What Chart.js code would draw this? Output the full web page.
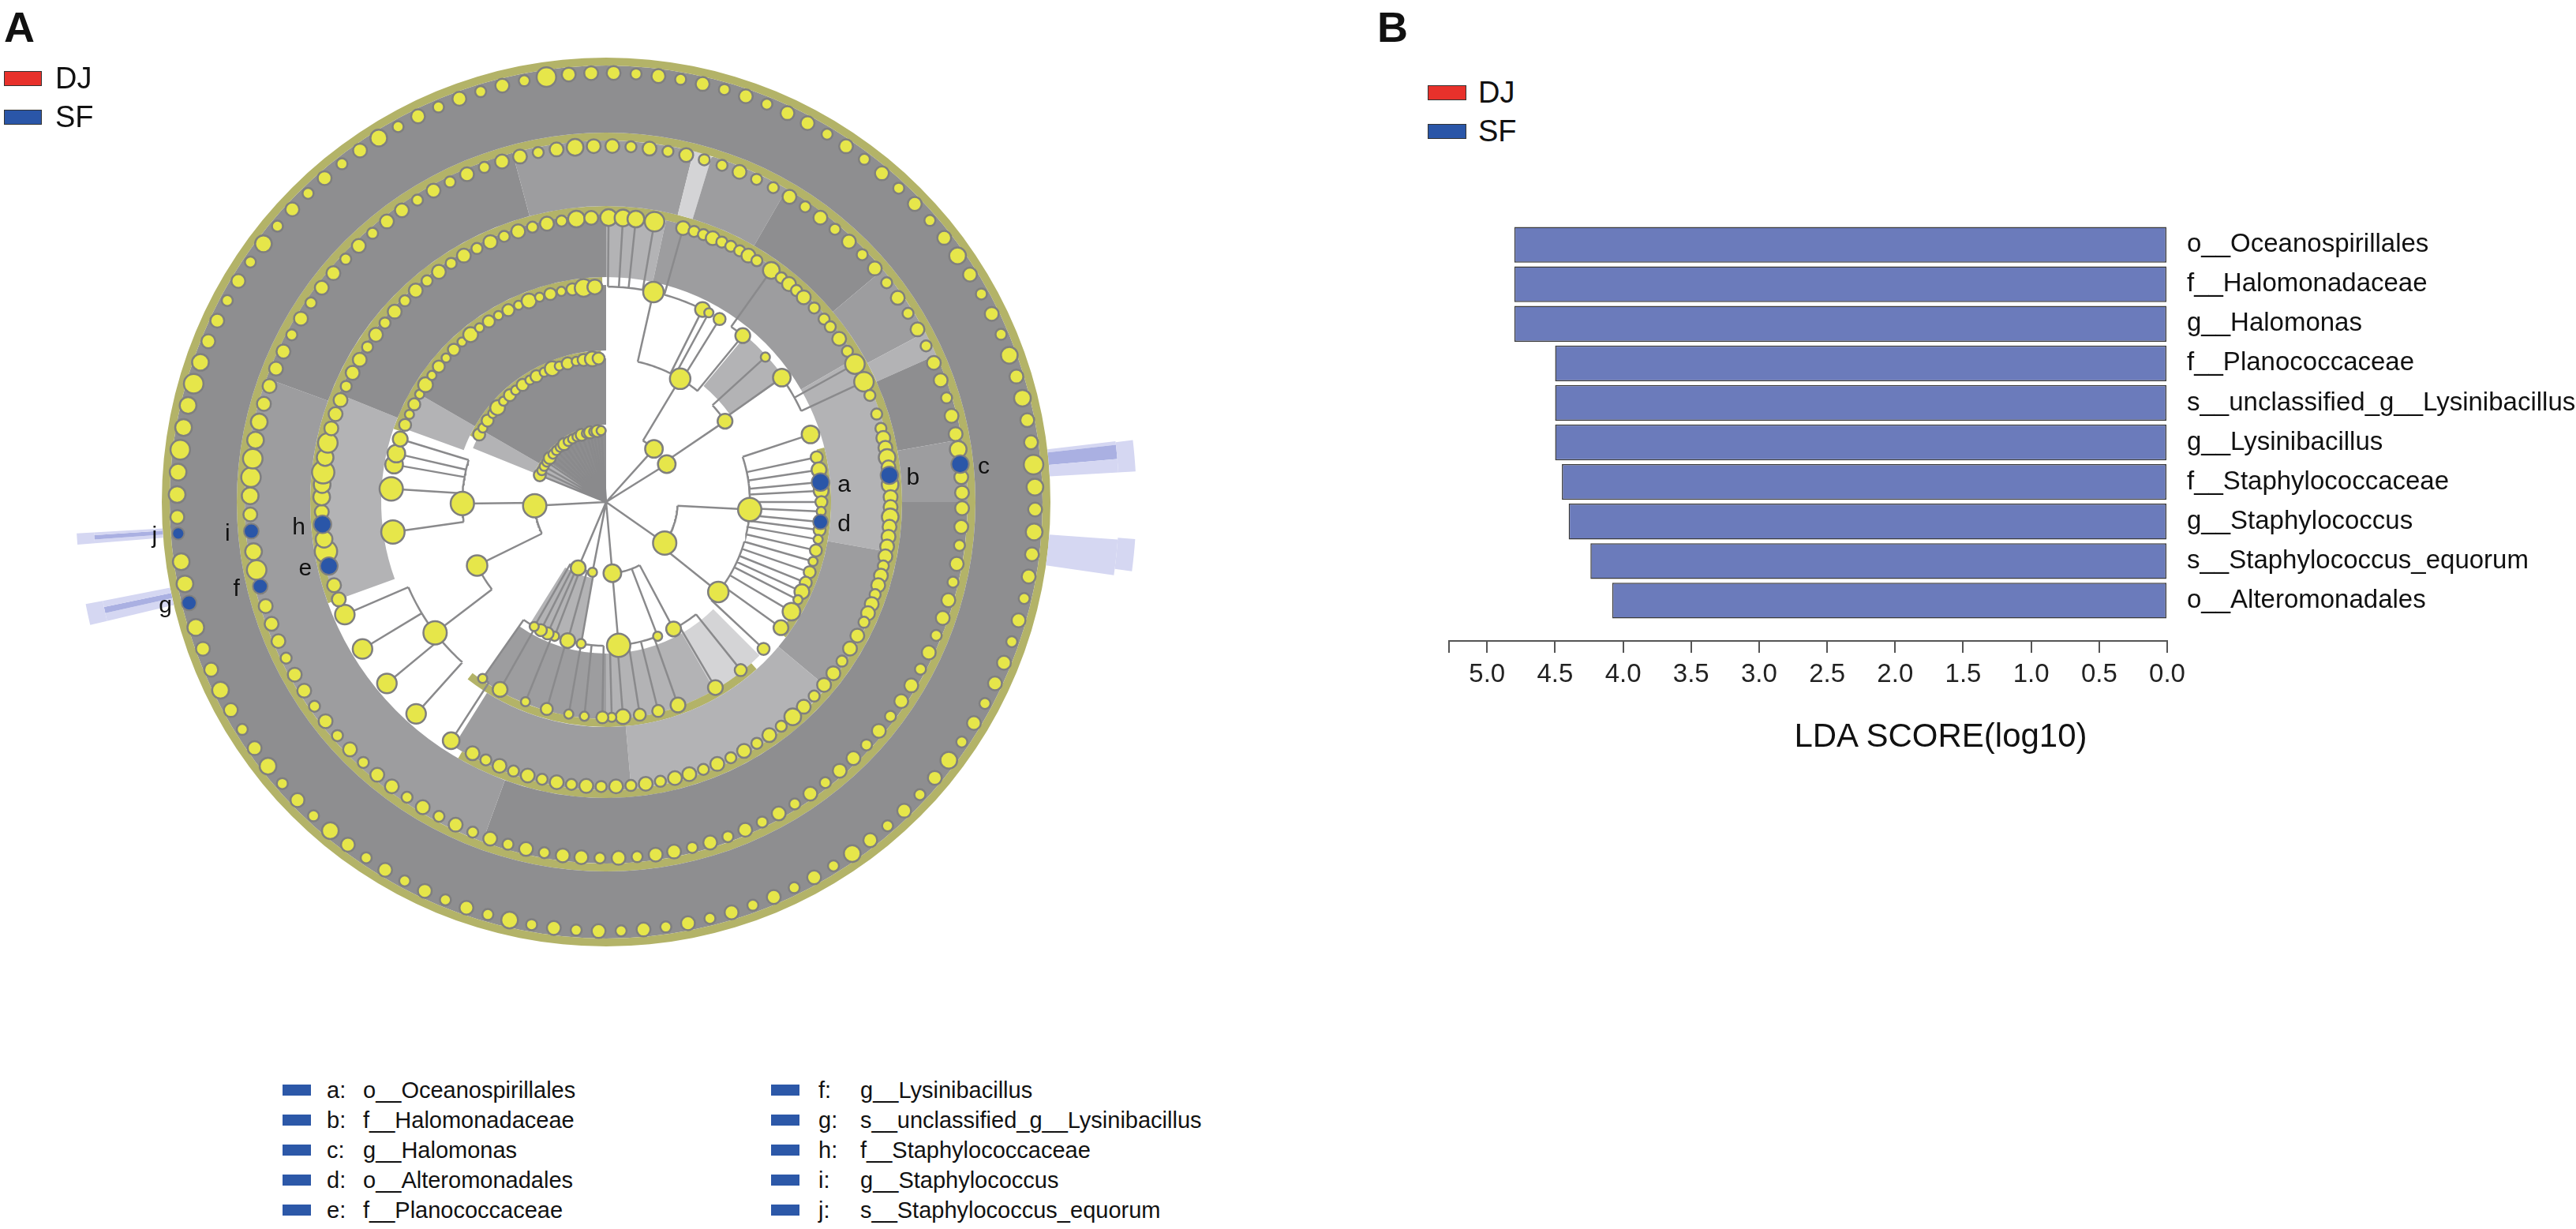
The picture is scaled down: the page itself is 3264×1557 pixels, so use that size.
<!DOCTYPE html>
<html>
<head>
<meta charset="utf-8">
<script src="https://cdn.jsdelivr.net/npm/chart.js@4.4.1/dist/chart.umd.min.js"></script>
<style>
  body { margin: 0; width: 3264px; height: 1557px; background: #fff; position: relative; overflow: hidden;
         font-family: "Liberation Sans", Arial, sans-serif; color: #111; }
  canvas { position: absolute; }
  .txt { position: absolute; line-height: 1; white-space: nowrap; transform: translateY(-50%); }
  .box { position: absolute; border: 1px solid #333; box-sizing: border-box; }
  .key { position: absolute; width: 36px; height: 14px; background: #2c58a8; transform: translateY(-50%); }
</style>
</head>
<body>
<canvas id="ringChart" width="1344" height="1344" style="left:96px;top:-36px"></canvas>
<canvas id="treeChart" width="1344" height="1344" style="left:96px;top:-36px"></canvas>
<canvas id="ldaChart" width="1464" height="800" style="left:1800px;top:200px"></canvas>
<div id="overlay"></div>
<script>
// ---- panel B data ----
const taxa = ["o__Oceanospirillales", "f__Halomonadaceae", "g__Halomonas", "f__Planococcaceae",
  "s__unclassified_g__Lysinibacillus", "g__Lysinibacillus", "f__Staphylococcaceae",
  "g__Staphylococcus", "s__Staphylococcus_equorum", "o__Alteromonadales"];
const ldaScores = [4.80, 4.80, 4.80, 4.50, 4.50, 4.50, 4.45, 4.40, 4.24, 4.08];
const ldaAxisMax = 5.28;
const ldaTickStep = 0.5;
const groups = ["DJ", "SF"];
const groupColors = ["#e8312b", "#2a56a8"];

// ---- panel A data: biomarkers ----
const biomarkerLetters = ["a", "b", "c", "d", "e", "f", "g", "h", "i", "j"];
const biomarkerNames = ["o__Oceanospirillales", "f__Halomonadaceae", "g__Halomonas", "o__Alteromonadales",
  "f__Planococcaceae", "g__Lysinibacillus", "s__unclassified_g__Lysinibacillus", "f__Staphylococcaceae",
  "g__Staphylococcus", "s__Staphylococcus_equorum"];
const biomarkerLevels = [3, 4, 5, 3, 4, 5, 6, 4, 5, 6];
const biomarkerAngles = [84.7, 84.6, 83.9, 95.3, 257, 256.3, 256.4, 265.5, 265.3, 265.8];
const biomarkerAbund = [4, 4, 4, 3, 4, 3, 3, 4, 3, 2];

// cladogram nodes: [angle clockwise from top, abundance class, parent angle]
const phylumNodes = [[42,4],[58,4],[125,6],[175,4],[191,1],[203,3],[267,6],
  [292,2],[296,1],[300,1],[304,1],[308,2],[312,1],[316,1],[320,1],[324,2],[328,1],[332,1],[336,1],
  [340,2],[344,1],[347,2],[350,1],[353,2],[356,1]];
const classNodes = [[31,5,42],[55.8,3,58],[93,6,125],[128.7,5,125],[152,3,175],[159,1,175],[175,6,175],
  [190,1,191],[195.5,3,203],[201,1,203],[204,2,203],[207,2,203],[210,1,203],[243.8,5,267],[269.4,6,267],
  [298,2],[301,1],[304.5,2],[308,1],[311,3],[314.5,1],[318,2],[321,1],[324.5,2],[328,1],[331,2],
  [334.5,1],[338,3],[341,1],[344.5,2],[348,1],[351,2],[354.5,3],[357,2]];
const orderNodes = [[12.7,5,31],[26.6,3,31],[28.5,1,31],[31.8,2,31],[39.4,3,31],[47.7,1,55.8],[54.7,4,55.8],
  [71.7,4,93],[78,2,93],[81.4,3,93],[84.7,3,93],[87,3,93],[90,2,93],[92.5,1,93],[95.3,2,93],[97.5,2,93],
  [100,1,93],[103,2,93],[106,1,128.7],[109,2,128.7],[112,2,128.7],[114.6,3,128.7],[117,1,128.7],
  [120.6,4,128.7],[125.7,3,128.7],[133,2,128.7],[141.3,2,152],[149.5,3,152],[160.5,3,175],[166,2,175],
  [171,2,175],[175.5,3,175],[178.5,1,175],[181,2,190],[185.8,1,190],[190,1,195.5],[196,2,195.5],
  [202,1,201],[209.5,3,207],[215,1,210],[232.6,6,243.8],[262,6,269.4],[273.5,6,269.4],[280,4,269.4],
  [283,4,269.4],[287,3,269.4],
  [291,2],[294,1],[297,2],[300,1],[303,3],[306,1],[309,2],[312,1],[315,2],[318,1],[321,3],[324,1],
  [327,2],[330,1],[333,2],[336,1],[339,3],[342,1],[345,2],[348,1],[351,2],[354,4],[357,3]];
const familyNodes = [[0.5,3,12.7],[3.4,3,12.7],[6,3,12.7],[9.8,4,12.7],[15.7,2,26.6],[18,1],[20,1],[22,2],
  [24,1],[26,1],[28,1],[30,2],[32,1],[35.5,3,39.4],[38,1],[40,2],[42,1],[44,2],[47,1],[50,1],[52,1],[55,2],
  [58,1],[61,4,54.7],[65,4,54.7],[68,1],[72,1],[75,1],[77,2],[79,2],[81,3],[83,2],[86.5,3],[89,2],
  [91,2],[93,3],[95,2],[97,2],[99,2],[101,2],[103,1],[105,2],[107,2],[109,1],[111,2],[113,2],[115,1],
  [118,2],[121,2],[124,1],[127,2],[130,2],[133,1],[136,2],[139,3],[142,1],[145,2],[148,1],[151,2],
  [154,1],[157,2],[160,1],[163,2],[166,2],[169,1],[172,2],[175,1],[178,2],[181,1],[184,2],[187,1],
  [190,2],[193,1],[196,2],[199,1],[202,2],[205,1],[208,2],[213,3,215],[221.9,4,232.6],[230.4,4,232.6],
  [238.9,4,232.6],[246.7,4,232.6],[250,2],[253,2],[260,5],[262.5,3],[268,2],[271,3],[273.5,3],[276,5],
  [279,3],[282,4],[285,2],[288,2],[291,2],[294,1],[297,2],[300,2],[303,1],[306,2],[309,1],[312,2],
  [315,1],[318,2],[321,1],[324,2],[327,1],[330,2],[333,1],[336,2],[339,1],[342,2],[345,1],[348,2],
  [351,1],[354,3],[357,2]];
const genusNodes = [[1,2],[4,1],[7,2],[10,1],[13,2],[16,1],[19,1],[22,2],[25,1],[28,1],[31,2],[34,1],
  [37,2],[40,1],[43,2],[46,1],[49,2],[52,1],[55,2],[58,1],[61,2],[64,1],[67,2],[70,2],[73,1],[76,2],
  [79,2],[81.5,3],[86,2],[88.5,2],[91,2],[94,2],[97,1],[100,2],[103,1],[106,2],[109,2],[112,1],[115,2],
  [118,1],[121,2],[124,2],[127,1],[130,2],[133,1],[136,2],[139,2],[142,1],[145,2],[148,1],[151,2],
  [154,1],[157,2],[160,1],[163,2],[166,1],[169,2],[172,2],[175,1],[178,2],[181,1],[184,2],[187,2],
  [190,1],[193,2],[196,1],[199,2],[202,1],[205,2],[208,1],[211,2],[214,1],[217,2],[220,2],[223,1],
  [226,2],[229,1],[232,2],[235,1],[238,2],[241,2],[244,1],[247,2],[250,2],[253,2],[259,4],[262,3],
  [268,2],[271,3],[274,4],[277,4],[280,3],[283,3],[286,2],[289,2],[292,2],[295,2],[298,1],[301,2],
  [304,1],[307,2],[310,2],[313,1],[316,2],[319,1],[322,2],[325,2],[328,1],[331,2],[334,1],[337,2],
  [340,1],[343,2],[346,2],[349,1],[352,2],[355,3],[358,2]];
const speciesNodes = [[1,2],[4,1],[7,2],[10,1],[13,2],[16,1],[19,2],[22,1],[25,2],[28,2],[31,1],[34,2],
  [37,1],[40,2],[43,1],[46,2],[49,1],[52,2],[55,3],[58,2],[61,1],[64,2],[67,1],[70,3],[73,2],[76,3],
  [79,2],[82,2],[85,4],[88,3],[91,2],[94,3],[97,2],[100,2],[103,1],[106,2],[109,1],[112,2],[115,2],
  [118,1],[121,2],[124,1],[127,3],[130,2],[133,1],[136,2],[139,1],[142,2],[145,3],[148,1],[151,2],
  [154,1],[157,2],[160,1],[163,2],[166,1],[169,2],[172,1],[175,2],[178,1],[181,2],[184,1],[187,2],
  [190,1],[193,3],[196,1],[199,2],[202,1],[205,2],[208,1],[211,2],[214,1],[217,2],[220,3],[223,1],
  [226,2],[229,1],[232,3],[235,2],[238,1],[241,2],[244,3],[247,2],[250,2],[253,3],[259,3],[262,3],
  [268,2],[271,3],[274,3],[277,4],[280,3],[283,3],[286,4],[289,3],[292,2],[295,2],[298,1],[301,2],
  [304,1],[307,3],[310,1],[313,2],[316,1],[319,2],[322,1],[325,2],[328,3],[331,1],[334,2],[337,1],
  [340,2],[343,1],[346,2],[349,1],[352,4],[355,2],[358,2]];

// density of branch lines between rings: [from angle, to angle, tone]
const band1Sectors = [[292,305,"m"],[305,360,"g"]];
const band2Sectors = [[190,212,"m"],[292,300,"m"],[300,360,"g"]];
const band3Sectors = [[40,55,"m"],[135,150,"l"],[150,180,"m"],[180,215,"d"],[290,300,"m"],[300,360,"g"]];
const band4Sectors = [[0,12,"m"],[12,60,"d"],[60,100,"m"],[100,130,"d"],[130,175,"m"],[175,212,"d"],
  [250,292,"m"],[292,360,"g"]];
const band5Sectors = [[0,14,"d"],[14,17,"l"],[17,30,"d"],[30,50,"g"],[50,62,"d"],[62,66,"m"],[66,80,"g"],
  [80,90,"d"],[90,200,"g"],[200,290,"d"],[290,345,"g"],[345,360,"d"]];
const band6Sectors = [[0,360,"g"]];
// where each ring of nodes forms a continuous bead chain
const speciesChain = [[0,360,"y"]];
const genusChain = [[0,360,"y"]];
const familyChain = [[0,210,"y"],[250,360,"y"]];
const orderChain = [[76,127,"y"],[138,218,"y"],[289,359,"y"]];
const classChain = [[296,358,"y"]];
const phylumChain = [[290,357,"y"]];
// clade shading outside the circle
const shadeInnerSectors = [[83.2,83.6,"s1"],[83.6,85.2,"s2"],[85.2,86.7,"s1"],[94.2,98.2,"s1"],
  [256.6,257.5,"s1"],[257.5,258.2,"s2"],[258.2,258.9,"s1"],[265.4,265.8,"s1"],[265.8,266.3,"s2"],[266.3,266.6,"s1"]];
const shadeOuterSectors = [[83.3,86.7,"s1"],[94,97.5,"s1"],[256.6,258.9,"s1"],[265.4,266.6,"s1"]];

Chart.defaults.font.family = '"Liberation Sans", Arial, sans-serif';
Chart.defaults.animation = false;

const TONES = { g: "#8e8e90", d: "#9d9d9f", m: "#b3b3b5", l: "#d4d4d6", y: "#b3b368",
                s1: "#d5d7f2", s2: "#aab0e2" };
function toRing(sectors) {
  const data = [], bg = [];
  let pos = 0;
  sectors.forEach(([s, e, t]) => {
    if (s > pos) { data.push(s - pos); bg.push("rgba(0,0,0,0)"); }
    data.push(e - s); bg.push(TONES[t]); pos = e;
  });
  if (pos < 360) { data.push(360 - pos); bg.push("rgba(0,0,0,0)"); }
  return { data, bg };
}

// rings from outside to inside, weights = ring thickness in px
const ringDefs = [[shadeOuterSectors, 22], [shadeInnerSectors, 87], [speciesChain, 10], [band6Sectors, 85],
  [genusChain, 10], [band5Sectors, 83], [familyChain, 10], [band4Sectors, 80], [orderChain, 10],
  [band3Sectors, 83], [classChain, 10], [band2Sectors, 84], [phylumChain, 10], [band1Sectors, 88]];
new Chart(document.getElementById("ringChart"), {
  type: "doughnut",
  data: {
    datasets: ringDefs.map(([sectors, w]) => {
      const r = toRing(sectors);
      return { data: r.data, backgroundColor: r.bg, borderWidth: 0, weight: w, hoverOffset: 0, spacing: 0 };
    })
  },
  options: {
    responsive: false, cutout: 0, layout: { padding: 0 },
    plugins: { legend: { display: false }, tooltip: { enabled: false } }
  }
});

// ---- tree overlay ----
const RING_R = [0, 93, 187, 280, 370, 463, 558];
const levelNodes = [null, phylumNodes, classNodes, orderNodes, familyNodes, genusNodes, speciesNodes];
function polar(r, deg) {
  const t = deg * Math.PI / 180;
  return { x: r * Math.sin(t), y: r * Math.cos(t) };
}
function nodeRadius(ab) { return 4 + 1.8 * ab; }
const GAP = { x: null, y: null };

const linePts = [];
phylumNodes.forEach(([ang]) => linePts.push({ x: 0, y: 0 }, polar(RING_R[1], ang), GAP));
for (let L = 2; L <= 4; L++) {
  const rIn = RING_R[L - 1], rOut = RING_R[L];
  const kids = {};
  levelNodes[L].forEach(n => {
    if (n[2] === undefined) return;
    linePts.push(polar(rIn, n[0]), polar(rOut, n[0]), GAP);
    (kids[n[2]] = kids[n[2]] || []).push(n[0]);
  });
  Object.keys(kids).forEach(p => {
    const angs = kids[p].concat([+p]);
    const a0 = Math.min(...angs), a1 = Math.max(...angs);
    for (let a = a0; a < a1; a += 1) linePts.push(polar(rIn, a));
    linePts.push(polar(rIn, a1), GAP);
  });
}

const nodeSets = [];
for (let L = 6; L >= 1; L--) {
  const nodes = levelNodes[L];
  const extra = L >= 4 ? 1.2 : 0;
  nodeSets.push({
    type: "scatter", order: 2,
    data: nodes.map(n => polar(RING_R[L], n[0])),
    pointRadius: nodes.map(n => nodeRadius(n[1]) + extra),
    pointBackgroundColor: "#e6e64a", pointBorderColor: "#7f7f7f", pointBorderWidth: 2.5
  });
}

const letterPlugin = {
  id: "letters",
  afterDatasetsDraw(chart) {
    const { ctx, scales } = chart;
    ctx.save();
    ctx.font = '30px "Liberation Sans", Arial, sans-serif';
    ctx.fillStyle = "#111";
    ctx.textAlign = "center";
    ctx.textBaseline = "middle";
    biomarkerLetters.forEach((l, i) => {
      const p = polar(RING_R[biomarkerLevels[i]], biomarkerAngles[i]);
      const side = biomarkerAngles[i] < 180 ? 1 : -1;
      ctx.fillText(l, scales.x.getPixelForValue(p.x) + side * 30, scales.y.getPixelForValue(p.y) + 4);
    });
    ctx.restore();
  }
};

new Chart(document.getElementById("treeChart"), {
  type: "scatter",
  data: {
    datasets: [
      {
        order: 1,
        data: biomarkerLetters.map((l, i) => polar(RING_R[biomarkerLevels[i]], biomarkerAngles[i])),
        pointRadius: biomarkerAbund.map(nodeRadius),
        pointBackgroundColor: "#2a56a8", pointBorderColor: "#7f7f7f", pointBorderWidth: 2
      },
      ...nodeSets,
      {
        order: 3, data: linePts, showLine: true, spanGaps: false, pointRadius: 0,
        borderColor: "#8a8a8c", borderWidth: 2.5, tension: 0
      }
    ]
  },
  options: {
    responsive: false, layout: { padding: 0 },
    plugins: { legend: { display: false }, tooltip: { enabled: false } },
    scales: {
      x: { type: "linear", min: -672, max: 672, display: false },
      y: { type: "linear", min: -672, max: 672, display: false }
    }
  },
  plugins: [letterPlugin]
});

// ---- panel B: LDA bars ----
new Chart(document.getElementById("ldaChart"), {
  type: "bar",
  data: {
    datasets: [{
      label: "SF",
      data: ldaScores.map((v, i) => ({ x: v, y: i })),
      backgroundColor: "#6b7bbb", borderColor: "#3a3a3a", borderWidth: 1.5, borderSkipped: false,
      barPercentage: 0.905, categoryPercentage: 1
    }]
  },
  options: {
    indexAxis: "y", responsive: false,
    layout: { padding: { left: 36, top: 85, right: 0, bottom: 0 } },
    plugins: { legend: { display: false }, tooltip: { enabled: false } },
    scales: {
      x: {
        type: "linear", reverse: true, min: 0, max: ldaAxisMax,
        afterFit(s) { s.height = 188; },
        afterBuildTicks(s) { s.ticks.push({ value: ldaAxisMax }); },
        border: { display: true, color: "#555", width: 2 },
        grid: { drawOnChartArea: false, drawTicks: true, tickLength: 15, color: "#555", lineWidth: 2 },
        ticks: {
          stepSize: ldaTickStep, includeBounds: false, padding: 8, color: "#222", font: { size: 33 },
          autoSkip: false, maxRotation: 0,
          callback: v => Math.abs(v / ldaTickStep - Math.round(v / ldaTickStep)) < 1e-6 ? v.toFixed(1) : ""
        }
      },
      y: {
        type: "linear", position: "right", reverse: true, min: -0.5, max: 10.02, offset: false,
        afterFit(s) { s.width = 518; },
        border: { display: false }, grid: { display: false, offset: false },
        ticks: {
          stepSize: 1, includeBounds: false, padding: 17, color: "#111", font: { size: 33 }, autoSkip: false,
          callback: v => Number.isInteger(v) && v >= 0 && v < taxa.length ? taxa[v] : null
        }
      }
    }
  }
});

// ---- text, legends ----
const ov = document.getElementById("overlay");
function addText(txt, x, y, size, extra) {
  const d = document.createElement("div");
  d.className = "txt";
  d.textContent = txt;
  d.style.left = x + "px"; d.style.top = y + "px"; d.style.fontSize = size + "px";
  if (extra) Object.assign(d.style, extra);
  ov.appendChild(d);
}
function addBox(x, y, w, h, color) {
  const d = document.createElement("div");
  d.className = "box";
  Object.assign(d.style, { left: x + "px", top: y + "px", width: w + "px", height: h + "px", background: color });
  ov.appendChild(d);
}
addText("A", 5, 34, 54, { fontWeight: "bold" });
addText("B", 1745, 34, 54, { fontWeight: "bold" });
groups.forEach((g, i) => {
  addBox(5, 90 + i * 49, 48, 19, groupColors[i]);
  addText(g, 70, 99 + i * 49, 38);
  addBox(1809, 108 + i * 49, 49, 19, groupColors[i]);
  addText(g, 1873, 117 + i * 49, 38);
});
addText("LDA SCORE(log10)", 2459, 932, 42, { transform: "translate(-50%,-50%)" });

biomarkerLetters.forEach((l, i) => {
  const col = Math.floor(i / 5), row = i % 5;
  const y = 1381 + row * 38;
  const k = document.createElement("div");
  k.className = "key";
  k.style.left = (col ? 977 : 358) + "px"; k.style.top = y + "px";
  ov.appendChild(k);
  addText(l + ":", col ? 1037 : 414, y, 29);
  addText(biomarkerNames[i], col ? 1090 : 460, y, 29);
});
</script>
</body>
</html>
